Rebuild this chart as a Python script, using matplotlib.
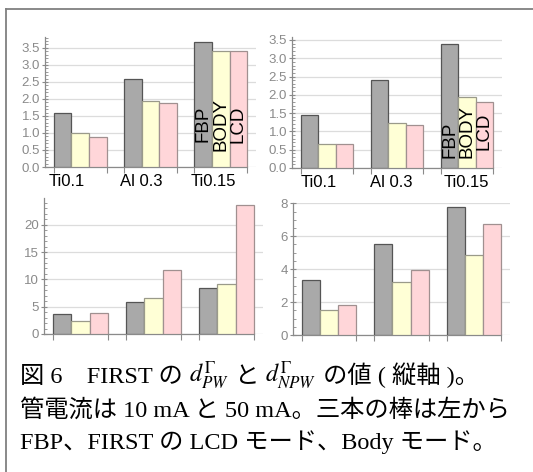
import numpy as np
import matplotlib
matplotlib.use("Agg")
import matplotlib.pyplot as plt
from matplotlib.lines import Line2D
from matplotlib.ticker import MultipleLocator

W, H = 533, 472

categories = ["Ti0.1", "Al 0.3", "Ti0.15"]
bar_names = ["FBP", "BODY", "LCD"]

# top-left, top-right, bottom-left, bottom-right
fbp_tl = [1.58, 2.59, 3.66]
body_tl = [1.01, 1.93, 3.42]
lcd_tl = [0.89, 1.87, 3.42]

fbp_tr = [1.45, 2.41, 3.38]
body_tr = [0.66, 1.23, 1.93]
lcd_tr = [0.66, 1.18, 1.80]

fbp_bl = [3.67, 5.93, 8.38]
body_bl = [2.38, 6.54, 9.10]
lcd_bl = [3.80, 11.7, 23.7]

fbp_br = [3.34, 5.53, 7.80]
body_br = [1.52, 3.24, 4.84]
lcd_br = [1.84, 3.95, 6.74]

colors = ["#a9a9a9", "#ffffd6", "#ffd6d9"]
edges = ["#555555", "#9a9a8a", "#a09090"]

fig = plt.figure(figsize=(W / 100, H / 100), dpi=100)


def px_axes(left, top, bottom, right):
    return fig.add_axes([left / W, (H - bottom) / H, (right - left) / W, (bottom - top) / H])


def panel(ax, fbp, body, lcd, ymax, major, minor, labels=None, lab_shift=0.0,
          names_y=None):
    g = np.arange(len(categories)) * 4.0
    for k, vals in enumerate([fbp, body, lcd]):
        ax.bar(g + k - 1, vals, width=1.0, color=colors[k], edgecolor=edges[k],
               linewidth=0.9, zorder=3)
    ax.set_xlim(-2.0, 10.0)
    ax.set_ylim(0, ymax)
    ax.yaxis.set_major_locator(MultipleLocator(major))
    ax.yaxis.set_minor_locator(MultipleLocator(minor))
    ax.grid(axis="y", color="#dcdcdc", lw=0.9, zorder=0)
    for s in ["top", "right"]:
        ax.spines[s].set_visible(False)
    for s in ["left", "bottom"]:
        ax.spines[s].set_color("#8a8a8a")
        ax.spines[s].set_linewidth(0.9)
    ax.spines["bottom"].set_bounds(-2.0, 9.5)
    ax.tick_params(axis="y", which="major", direction="inout", length=5, width=0.8,
                   color="#8a8a8a", labelcolor="#8a8a8a", labelsize=9.5, pad=1)
    ax.tick_params(axis="y", which="minor", direction="in", length=2, width=0.6,
                   color="#8a8a8a")
    edges_x = np.concatenate([g - 1.5, g + 1.5])
    ax.set_xticks(edges_x, minor=True)
    ax.tick_params(axis="x", which="minor", direction="out", length=4, width=0.8,
                   color="#8a8a8a")
    if labels:
        ax.set_xticks(g + np.array(lab_shift), labels)
        ax.tick_params(axis="x", which="major", length=0, pad=5, labelsize=12,
                       labelcolor="black")
    else:
        ax.set_xticks([])
    for lab in ax.get_xticklabels() + ax.get_yticklabels():
        lab.set_family("Liberation Sans")
    if names_y is not None:
        for k, name in enumerate(bar_names):
            ax.text(g[-1] + k - 1, names_y[k], name, rotation=90, ha="center",
                    va="center", fontsize=13.5, family="Liberation Sans", zorder=4)


ax1 = px_axes(45, 37, 167, 256)
panel(ax1, fbp_tl, body_tl, lcd_tl, 3.82, 0.5, 0.1, categories,
      [-0.75, -0.55, -0.45], [1.26, 1.26, 1.26])

ax2 = px_axes(292, 37, 168, 502)
panel(ax2, fbp_tr, body_tr, lcd_tr, 3.58, 0.5, 0.1, categories,
      [-0.45, -0.35, -0.05], [0.76, 0.99, 0.99])

ax3 = px_axes(44, 198, 334, 263)
panel(ax3, fbp_bl, body_bl, lcd_bl, 24.9, 5, 1)

ax4 = px_axes(293, 203, 335, 510)
panel(ax4, fbp_br, body_br, lcd_br, 8.02, 2, 0.5)

# frame of the figure box
fig.add_artist(Line2D([6 / W, 6 / W], [0, 1 - 9 / H], transform=fig.transFigure,
                      color="#808080", lw=1.3))
fig.add_artist(Line2D([6 / W, 1], [1 - 9 / H, 1 - 9 / H], transform=fig.transFigure,
                      color="#808080", lw=1.3))

# caption
plt.rcParams["mathtext.fontset"] = "stix"
cap_font = ["Liberation Serif", "Noto Sans CJK JP"]
cap_size = 17.5
renderer = fig.canvas.get_renderer()


def put_line(x_px, base_px, pieces):
    x = x_px / W
    for s in pieces:
        t = fig.text(x, 1 - base_px / H, s, fontsize=cap_size, family=cap_font,
                     va="baseline", ha="left")
        x += t.get_window_extent(renderer).width / W


put_line(20, 383, ["図 6\u3000FIRST の ", r"$d^{\Gamma}_{PW}$", " と ",
                   r"$d^{\Gamma}_{NPW}$", " の値 ( 縦軸 )。"])
put_line(20, 417, ["管電流は 10 mA と 50 mA。三本の棒は左から"])
put_line(20, 449, ["FBP、FIRST の LCD モード、Body モード。"])

fig.savefig("out.png", dpi=100)
